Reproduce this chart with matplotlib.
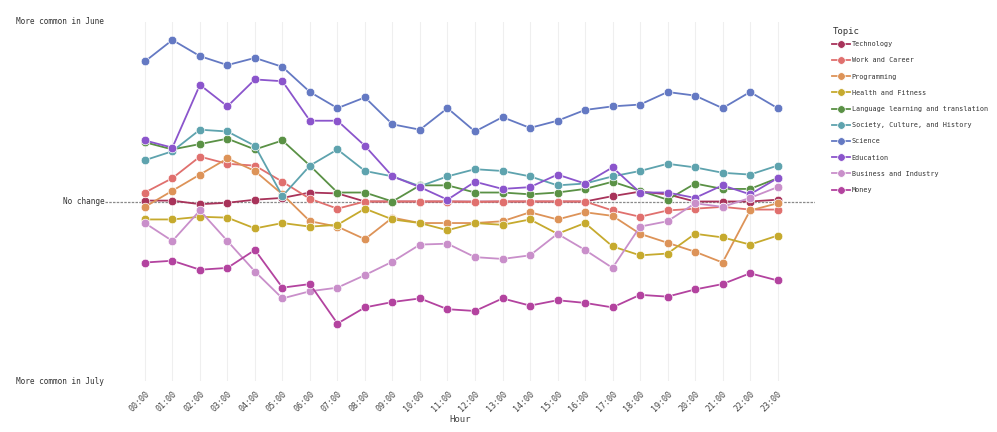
import numpy as np
import matplotlib
matplotlib.use("Agg")
import matplotlib.pyplot as plt
from matplotlib.lines import Line2D
from matplotlib.transforms import blended_transform_factory

plt.rcParams['font.family'] = ['DejaVu Sans Mono']

hours = [f"{h:02d}:00" for h in range(24)]

topics = ["Technology", "Work and Career", "Programming", "Health and Fitness",
          "Language learning and translation", "Society, Culture, and History",
          "Science", "Education", "Business and Industry", "Money"]

colours = ["#a8335a", "#e0706e", "#dd9358", "#c6aa2e", "#5a9145",
           "#5ea3ae", "#6479c3", "#8b55cc", "#c98fca", "#b3439f"]

technology = [0.005, 0.005, -0.015, -0.007, 0.01, 0.02, 0.05, 0.045, 0, 0, 0, 0,
              0, 0, 0, 0, 0, 0.03, 0.055, 0.04, 0, 0, 0, 0.01]
work = [0.05, 0.13, 0.25, 0.21, 0.20, 0.11, 0.015, -0.04, 0, 0, 0, 0,
        -0.003, 0, 0, 0, 0, -0.05, -0.085, -0.05, -0.04, -0.03, -0.045, -0.045]
programming = [-0.03, 0.06, 0.15, 0.24, 0.17, 0.04, -0.11, -0.14, -0.21, -0.09, -0.12, -0.12,
               -0.12, -0.11, -0.06, -0.10, -0.06, -0.08, -0.18, -0.23, -0.28, -0.34, -0.05, -0.01]
health = [-0.10, -0.10, -0.085, -0.09, -0.15, -0.12, -0.14, -0.13, -0.04, -0.10, -0.12, -0.16,
          -0.12, -0.13, -0.10, -0.18, -0.12, -0.25, -0.30, -0.29, -0.18, -0.20, -0.24, -0.19]
language = [0.33, 0.29, 0.32, 0.35, 0.29, 0.34, 0.20, 0.05, 0.05, 0.0, 0.09, 0.09,
            0.05, 0.05, 0.04, 0.05, 0.07, 0.11, 0.06, 0.01, 0.10, 0.07, 0.07, 0.13]
society = [0.23, 0.28, 0.40, 0.39, 0.31, 0.03, 0.20, 0.29, 0.17, 0.14, 0.085, 0.14,
           0.18, 0.17, 0.14, 0.09, 0.10, 0.14, 0.17, 0.21, 0.19, 0.16, 0.15, 0.20]
science = [0.78, 0.90, 0.81, 0.76, 0.80, 0.75, 0.61, 0.52, 0.58, 0.43, 0.40, 0.52,
           0.39, 0.47, 0.41, 0.45, 0.51, 0.53, 0.54, 0.61, 0.59, 0.52, 0.61, 0.52]
education = [0.34, 0.30, 0.65, 0.53, 0.68, 0.67, 0.45, 0.45, 0.31, 0.14, 0.08, 0.01,
             0.11, 0.07, 0.08, 0.15, 0.10, 0.19, 0.05, 0.05, 0.02, 0.09, 0.04, 0.13]
business = [-0.12, -0.22, -0.05, -0.22, -0.39, -0.54, -0.50, -0.48, -0.41, -0.335, -0.24, -0.235,
            -0.31, -0.32, -0.30, -0.18, -0.27, -0.37, -0.14, -0.11, -0.01, -0.03, 0.02, 0.08]
money = [-0.34, -0.33, -0.38, -0.37, -0.27, -0.48, -0.46, -0.68, -0.59, -0.56, -0.54, -0.60,
         -0.61, -0.54, -0.58, -0.55, -0.565, -0.59, -0.52, -0.53, -0.49, -0.46, -0.40, -0.44]

series = [technology, work, programming, health, language,
          society, science, education, business, money]

fig = plt.figure(figsize=(9.97, 4.32), dpi=100)
ax = fig.add_axes([105 / 997, 1 - 381 / 432, (815 - 105) / 997, (381 - 22) / 432])

x = np.arange(24)
ax.axhline(0, color="#8a8a8a", lw=0.9, ls=(0, (2, 1)), zorder=1)
for vals, name, c in zip(series, topics, colours):
    ax.plot(x, vals, color=c, lw=1.3, marker="o", ms=6.2, mfc=c,
            mec="white", mew=0.5, label=name, zorder=3)

ax.set_xlim(-1.45, 24.36)
ax.set_ylim(-1, 1)
ax.set_xticks(x)
ax.set_xticklabels(hours, rotation=45, ha="right", rotation_mode="anchor",
                   fontsize=6, color="#444444")
ax.tick_params(axis="x", length=0, pad=6)
ax.set_yticks([])
ax.grid(axis="x", color="#efefef", lw=0.8)
ax.set_axisbelow(True)
for s in ax.spines.values():
    s.set_visible(False)
ax.set_xlabel("Hour", fontsize=6.5, color="#444444", labelpad=1)

# y side labels
side = blended_transform_factory(fig.transFigure, ax.transData)
ax.text(16 / 997, 1.0, "More common in June", transform=side,
        fontsize=5.6, color="#333333", va="center", ha="left")
ax.text(16 / 997, -1.0, "More common in July", transform=side,
        fontsize=5.6, color="#333333", va="center", ha="left")
ax.text(-0.001, 0, "No change", transform=ax.get_yaxis_transform(),
        fontsize=5.6, color="#333333", va="center", ha="right")

# legend
fig.text(833 / 997, 1 - 32 / 432, "Topic", fontsize=6.5, color="#333333",
         va="center", ha="left")
handles = [Line2D([0], [0], color=c, lw=1.3, marker="o", ms=5.5, mfc=c, mec="white", mew=0.5)
           for c in colours]
leg = fig.legend(handles, topics, loc="upper left",
                 bbox_to_anchor=(826 / 997, 1 - 35 / 432), frameon=False,
                 fontsize=4.9, labelspacing=1.5,
                 handlelength=2.6, handletextpad=0.3)
for t in leg.get_texts():
    t.set_color("#333333")

fig.savefig("out.png", dpi=100)
